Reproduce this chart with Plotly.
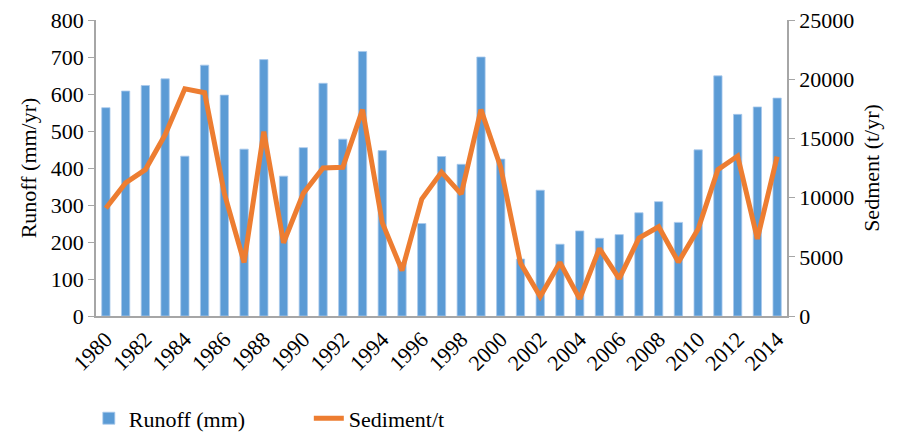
import plotly.graph_objects as go

# ---------- DATA ----------
years = list(range(1980, 2015))

runoff_mm = [563, 608, 623, 641, 432, 678, 597, 451, 693, 378,
             455, 629, 478, 715, 447, 145, 250, 431, 410, 700,
             424, 154, 340, 194, 230, 210, 220, 279, 309, 253,
             449, 649, 545, 565, 589]

sediment_t = [9100, 11240, 12360, 15300, 19190, 18860, 10360, 4520, 15570, 6190,
              10360, 12500, 12560, 17430, 7890, 3840, 9870, 12150, 10300, 17430,
              12560, 4470, 1640, 4520, 1450, 5700, 3150, 6580, 7540, 4550,
              7350, 12360, 13510, 6520, 13460]

tick_years = list(range(1980, 2015, 2))

FONT = "Times New Roman"
AXIS_GREY = "#a6a6a6"

# ---------- PLOT ----------
fig = go.Figure(go.Bar(
    x=years,
    y=runoff_mm,
    name="Runoff (mm)",
    marker=dict(color="#5b9bd5", line=dict(color="#a9c9ec", width=0.8)),
))

fig.add_trace(go.Scatter(
    x=years,
    y=sediment_t,
    name="Sediment/t",
    mode="lines",
    line=dict(color="#ed7d31", width=5),
    yaxis="y2",
))

fig.update_layout(
    width=898,
    height=432,
    margin=dict(l=88, r=119, t=12, b=124),
    plot_bgcolor="white",
    paper_bgcolor="white",
    font=dict(family=FONT, size=22, color="black"),
    bargap=0.58,
    showlegend=True,
    legend=dict(
        orientation="h",
        xref="container", yref="container",
        x=0.09, xanchor="left",
        y=0.05, yanchor="middle",
        entrywidth=175, entrywidthmode="pixels",
        font=dict(family=FONT, size=22),
    ),
    xaxis=dict(
        range=[1979.5, 2014.5],
        tickmode="array",
        tickvals=tick_years,
        ticktext=[str(y) for y in tick_years],
        tickangle=-45,
        showline=True, linecolor=AXIS_GREY, linewidth=1.5,
        ticks="", showgrid=False, zeroline=False,
        automargin=False,
        tickfont=dict(family=FONT, size=22),
    ),
    yaxis=dict(
        range=[0, 800],
        tickmode="array",
        tickvals=list(range(0, 801, 100)),
        title=dict(text="Runoff (mm/yr)", standoff=8,
                   font=dict(family=FONT, size=22)),
        showline=True, linecolor=AXIS_GREY, linewidth=1.5,
        ticks="outside", ticklen=6, tickcolor=AXIS_GREY,
        showgrid=False, zeroline=False,
        automargin=False,
        ticklabeloverflow="allow",
        tickfont=dict(family=FONT, size=22),
    ),
    yaxis2=dict(
        range=[0, 25000],
        tickmode="array",
        tickvals=list(range(0, 25001, 5000)),
        ticktext=[str(v) for v in range(0, 25001, 5000)],
        overlaying="y",
        side="right",
        title=dict(text="Sedment (t/yr)", standoff=10,
                   font=dict(family=FONT, size=22)),
        showline=True, linecolor=AXIS_GREY, linewidth=1.5,
        ticks="outside", ticklen=6, tickcolor=AXIS_GREY,
        showgrid=False, zeroline=False,
        automargin=False,
        ticklabeloverflow="allow",
        tickfont=dict(family=FONT, size=22),
    ),
)

fig.write_html("out.html")
